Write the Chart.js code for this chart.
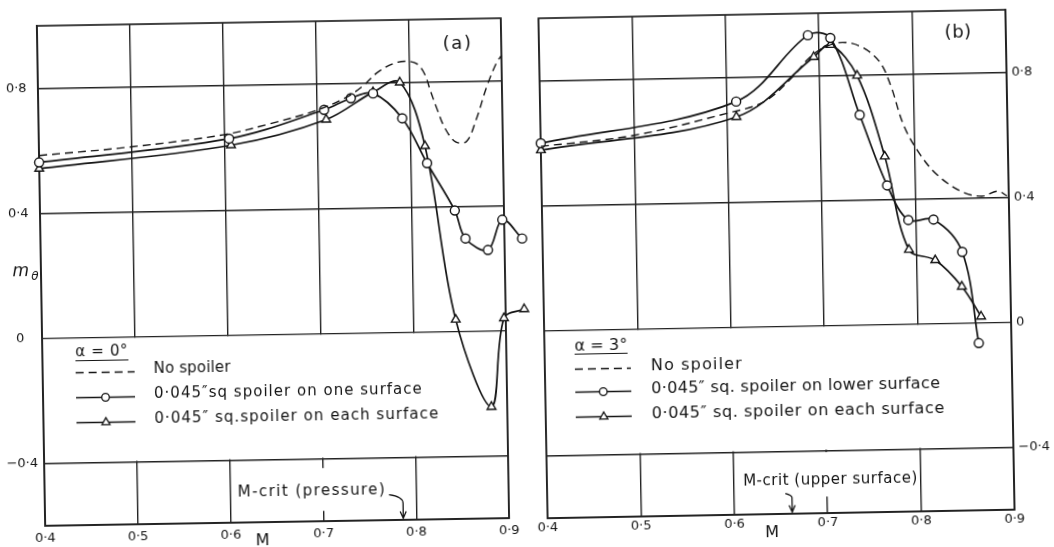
<!DOCTYPE html>
<html>
<head>
<meta charset="utf-8">
<title>Pitching moment with spoilers</title>
<script src="https://cdn.jsdelivr.net/npm/chart.js@4.4.1/dist/chart.umd.min.js"></script>
<style>
  html, body { margin: 0; padding: 0; background: #fff; }
  body { width: 1054px; height: 547px; overflow: hidden; position: relative; }
  canvas { position: absolute; left: 0; top: 0; }
  #panelA { transform-origin: 273px 272px; transform: rotate(-0.95deg); }
  #panelB { transform-origin: 776px 264px; transform: rotate(-1.05deg); }
</style>
</head>
<body>
<canvas id="panelA" width="1054" height="547"></canvas>
<canvas id="panelB" width="1054" height="547"></canvas>
<script>
// ---- shared axes: Mach number M against pitching moment m_theta ----
const machTicks = [0.4, 0.5, 0.6, 0.7, 0.8, 0.9];
const momentTicks = [-0.4, 0, 0.4, 0.8];
const machMin = 0.4, machMax = 0.9;
const momentMin = -0.6, momentMax = 1.0;

// ---- (a) alpha = 0 deg ----
const aNoSpoilerM = [0.4, 0.5, 0.6, 0.65, 0.7, 0.732, 0.75, 0.767, 0.785, 0.798, 0.809, 0.817, 0.823, 0.83, 0.838, 0.849, 0.861, 0.872, 0.884, 0.895, 0.9];
const aNoSpoilerV = [0.585, 0.608, 0.642, 0.675, 0.715, 0.755, 0.79, 0.835, 0.862, 0.867, 0.858, 0.825, 0.77, 0.71, 0.65, 0.607, 0.608, 0.68, 0.785, 0.86, 0.88];
const aOneSurfaceM = [0.4, 0.605, 0.708, 0.737, 0.761, 0.792, 0.818, 0.847, 0.858, 0.882, 0.898, 0.919];
const aOneSurfaceV = [0.563, 0.629, 0.716, 0.752, 0.766, 0.685, 0.54, 0.387, 0.297, 0.259, 0.355, 0.294];
const aEachSurfaceM = [0.4, 0.607, 0.71, 0.761, 0.79, 0.816, 0.846, 0.883, 0.898, 0.92];
const aEachSurfaceV = [0.543, 0.608, 0.685, 0.77, 0.8, 0.595, 0.038, -0.243, 0.04, 0.068];
const aLabels = ['No spoiler', '0\u00B7045\u2033sq spoiler on one surface', '0\u00B7045\u2033 sq.spoiler on each surface'];

// ---- (b) alpha = 3 deg ----
const bNoSpoilerM = [0.4, 0.5, 0.6, 0.64, 0.67, 0.69, 0.709, 0.728, 0.748, 0.765, 0.776, 0.789, 0.805, 0.824, 0.85, 0.871, 0.888, 0.898];
const bNoSpoilerV = [0.59, 0.62, 0.685, 0.72, 0.795, 0.86, 0.895, 0.905, 0.885, 0.838, 0.762, 0.635, 0.546, 0.475, 0.42, 0.405, 0.42, 0.405];
const bLowerSurfaceM = [0.4, 0.61, 0.688, 0.712, 0.742, 0.77, 0.792, 0.819, 0.849, 0.865];
const bLowerSurfaceV = [0.6, 0.722, 0.93, 0.92, 0.672, 0.445, 0.333, 0.333, 0.228, -0.065];
const bEachSurfaceM = [0.4, 0.61, 0.694, 0.712, 0.74, 0.768, 0.792, 0.82, 0.848, 0.868];
const bEachSurfaceV = [0.578, 0.673, 0.86, 0.898, 0.798, 0.538, 0.238, 0.203, 0.117, 0.02];
const bLabels = ['No spoiler', '0\u00B7045\u2033 sq. spoiler on lower surface', '0\u00B7045\u2033 sq. spoiler on each surface'];

const INK = '#141414';
const GRID = '#222222';
const FONT = '"DejaVu Sans", "Liberation Sans", sans-serif';

function pts(ms, vs) { return ms.map((m, i) => ({ x: m, y: vs[i] })); }

function tickText(v) {
  if (Math.abs(v) < 1e-9) return '0';
  return (v < 0 ? '\u2212' : '') + '0\u00B7' + Math.round(Math.abs(v) * 10);
}

// draw a string stretched (by letter spacing) to a given width
function fitText(ctx, str, x, y, w, font) {
  ctx.font = font;
  const hasLS = 'letterSpacing' in ctx;
  if (hasLS) ctx.letterSpacing = '0px';
  const natural = ctx.measureText(str).width;
  if (w && hasLS) {
    ctx.letterSpacing = ((w - natural) / str.length).toFixed(2) + 'px';
    ctx.fillText(str, x, y);
    ctx.letterSpacing = '0px';
  } else if (w) {
    ctx.save(); ctx.translate(x, y); ctx.scale(w / natural, 1); ctx.fillText(str, 0, 0); ctx.restore();
  } else {
    ctx.fillText(str, x, y);
  }
}

function marker(ctx, style, x, y, r) {
  ctx.beginPath();
  if (style === 'triangle') {
    ctx.moveTo(x, y - r);
    ctx.lineTo(x + 0.866 * r, y + r / 2);
    ctx.lineTo(x - 0.866 * r, y + r / 2);
    ctx.closePath();
  } else {
    ctx.arc(x, y, r, 0, Math.PI * 2);
  }
  ctx.fillStyle = '#fff';
  ctx.fill();
  ctx.stroke();
}

function makeDatasets(labels, noM, noV, s1M, s1V, s2M, s2V) {
  const common = { borderColor: INK, fill: false, tension: 0.35, clip: false, pointBackgroundColor: '#fff', pointBorderColor: INK, pointBorderWidth: 1.4 };
  return [
    Object.assign({}, common, { label: labels[0], data: pts(noM, noV), borderWidth: 1.4, borderDash: [8, 5], pointRadius: 0 }),
    Object.assign({}, common, { label: labels[1], data: pts(s1M, s1V), borderWidth: 1.7, pointStyle: 'circle', pointRadius: 4.5 }),
    Object.assign({}, common, { label: labels[2], data: pts(s2M, s2V), borderWidth: 1.7, pointStyle: 'triangle', pointRadius: 5 })
  ];
}

// frame, blank legend band, M-crit note, legend and panel labels
function panelPlugin(p) {
  return {
    id: 'panelDecor',
    beforeDatasetsDraw(chart) {
      const { ctx, chartArea: a, scales: { x, y } } = chart;
      const y0 = y.getPixelForValue(0), yN = y.getPixelForValue(-0.4);
      ctx.save();
      ctx.fillStyle = '#fff';
      ctx.fillRect(a.left + 1, y0 + 1, a.width - 2, yN - y0 - 2);
      // blank area behind the M-crit note
      const c = p.crit;
      const bx0 = x.getPixelForValue(c.box[0]), bx1 = x.getPixelForValue(c.box[1]);
      const by0 = y.getPixelForValue(c.box[2]), by1 = y.getPixelForValue(c.box[3]);
      ctx.fillRect(bx0, by0, bx1 - bx0, by1 - by0);
      // outer frame
      ctx.strokeStyle = GRID;
      ctx.lineWidth = 1.7;
      ctx.strokeRect(a.left, a.top, a.width, a.height);
      // note text
      ctx.fillStyle = INK;
      ctx.textBaseline = 'middle';
      ctx.textAlign = 'left';
      fitText(ctx, c.text, x.getPixelForValue(c.m0), y.getPixelForValue(c.v), x.getPixelForValue(c.m1) - x.getPixelForValue(c.m0), '15px ' + FONT);
      // arrow down to the M axis
      const ar = c.arrow.map(q => [x.getPixelForValue(q[0]), y.getPixelForValue(q[1])]);
      ctx.strokeStyle = INK;
      ctx.lineWidth = 1.3;
      ctx.beginPath();
      ctx.moveTo(ar[0][0], ar[0][1]);
      ctx.quadraticCurveTo(ar[1][0], ar[0][1] + 2, ar[1][0], ar[1][1]);
      ctx.lineTo(ar[2][0], ar[2][1]);
      ctx.moveTo(ar[2][0] - 3, ar[2][1] - 7);
      ctx.lineTo(ar[2][0], ar[2][1]);
      ctx.lineTo(ar[2][0] + 3, ar[2][1] - 7);
      ctx.stroke();
      ctx.restore();
    },
    afterDatasetsDraw(chart) {
      const { ctx, chartArea: a, scales: { x, y } } = chart;
      const y0 = y.getPixelForValue(0);
      const lg = p.legend;
      ctx.save();
      ctx.strokeStyle = INK;
      // markers of points lying past the frame (the library leaves them out)
      chart.data.datasets.forEach((ds, i) => {
        if (!(ds.pointRadius > 0)) return;
        const m = ds.pointRadius + ds.pointBorderWidth;
        chart.getDatasetMeta(i).data.forEach(pt => {
          if (pt.x > a.right + m || pt.x < a.left - m || pt.y < a.top - m || pt.y > a.bottom + m) {
            ctx.lineWidth = ds.pointBorderWidth;
            marker(ctx, ds.pointStyle, pt.x, pt.y, ds.pointRadius);
          }
        });
      });
      ctx.fillStyle = INK;
      ctx.textBaseline = 'middle';
      ctx.textAlign = 'left';
      // legend heading, underlined
      const hx = a.left + lg.sx0;
      fitText(ctx, lg.header, hx, y0 + lg.hy, lg.hw, lg.size + 'px ' + FONT);
      ctx.lineWidth = 1.2;
      ctx.beginPath();
      ctx.moveTo(hx, y0 + lg.hy + 8);
      ctx.lineTo(hx + lg.hw, y0 + lg.hy + 8);
      ctx.stroke();
      // one row per dataset
      chart.data.datasets.forEach((ds, i) => {
        const ry = y0 + lg.rows[i];
        ctx.lineWidth = ds.borderWidth;
        ctx.setLineDash(ds.borderDash || []);
        ctx.beginPath();
        ctx.moveTo(a.left + lg.sx0, ry);
        ctx.lineTo(a.left + lg.sx1, ry);
        ctx.stroke();
        ctx.setLineDash([]);
        if (ds.pointRadius > 0) {
          ctx.lineWidth = 1.3;
          marker(ctx, ds.pointStyle, a.left + (lg.sx0 + lg.sx1) / 2, ry, ds.pointStyle === 'triangle' ? 4.6 : 3.8);
        }
        ctx.fillStyle = INK;
        fitText(ctx, ds.label, a.left + lg.tx, ry - 2, lg.tw[i], lg.size + 'px ' + FONT);
      });
      // panel tag
      fitText(ctx, p.tag.text, x.getPixelForValue(p.tag.m) - p.tag.w / 2, y.getPixelForValue(p.tag.v), p.tag.w, '18px ' + FONT);
      // axis title M
      ctx.font = '16px ' + FONT;
      ctx.textAlign = 'center';
      ctx.fillText('M', x.getPixelForValue(p.mLabel), a.bottom + 19);
      // axis title m_theta
      if (p.yTitle) {
        const ty = y.getPixelForValue(p.yTitle);
        ctx.font = 'italic 17px ' + FONT;
        ctx.textAlign = 'right';
        ctx.fillText('m', a.left - 12, ty);
        ctx.font = 'italic 12px ' + FONT;
        ctx.textAlign = 'center';
        ctx.fillText('\u03B8', a.left - 6, ty + 6);
      }
      ctx.restore();
    }
  };
}

function makeChart(id, side, pad, datasets, decor, tickPad) {
  const tickFont = { family: FONT, size: 13 };
  return new Chart(document.getElementById(id), {
    type: 'line',
    data: { datasets },
    options: {
      responsive: false,
      animation: false,
      devicePixelRatio: 1,
      events: [],
      layout: { padding: pad },
      plugins: { legend: { display: false }, tooltip: { enabled: false } },
      scales: {
        x: {
          type: 'linear', position: 'bottom', min: machMin, max: machMax,
          afterBuildTicks: s => { s.ticks = machTicks.map(v => ({ value: v })); },
          afterFit: s => { s.height = 20; s.paddingLeft = 0; s.paddingRight = 0; },
          grid: { color: GRID, lineWidth: 1.4, drawTicks: false },
          border: { display: true, color: GRID, width: 1.7 },
          ticks: { callback: v => tickText(v), font: tickFont, color: INK, padding: tickPad, maxRotation: 0, autoSkip: false }
        },
        y: {
          type: 'linear', position: side, min: momentMin, max: momentMax,
          afterBuildTicks: s => { s.ticks = momentTicks.map(v => ({ value: v })); },
          afterFit: s => { s.width = side === 'left' ? 41 : 44; s.paddingTop = 0; s.paddingBottom = 0; },
          grid: { color: GRID, lineWidth: 1.4, drawTicks: false },
          border: { display: true, color: GRID, width: 1.7 },
          ticks: { callback: v => tickText(v), font: tickFont, color: INK, padding: side === 'left' ? 6 : 5, crossAlign: side === 'left' ? 'center' : 'near', autoSkip: false }
        }
      }
    },
    plugins: [panelPlugin(decor)]
  });
}

makeChart('panelA', 'left', { left: 0, right: 549, top: 22, bottom: 5 },
  makeDatasets(aLabels, aNoSpoilerM, aNoSpoilerV, aOneSurfaceM, aOneSurfaceV, aEachSurfaceM, aEachSurfaceV),
  {
    crit: { text: 'M-crit (pressure)', m0: 0.608, m1: 0.768, v: -0.503,
            box: [0.606, 0.772, -0.43, -0.567],
            arrow: [[0.771, -0.519], [0.786, -0.547], [0.786, -0.595]] },
    legend: { header: '\u03B1 = 0\u00B0', hy: 15, hw: 53, size: 15, sx0: 33, sx1: 92, tx: 111,
              rows: [35, 60, 85], tw: [77, 269, 285] },
    tag: { text: '(a)', m: 0.853, v: 0.92, w: 30 },
    mLabel: 0.634,
    yTitle: 0.215
  }, 5);

makeChart('panelB', 'right', { left: 543, right: 0, top: 14, bottom: 13 },
  makeDatasets(bLabels, bNoSpoilerM, bNoSpoilerV, bLowerSurfaceM, bLowerSurfaceV, bEachSurfaceM, bEachSurfaceV),
  {
    crit: { text: 'M-crit (upper surface)', m0: 0.61, m1: 0.797, v: -0.496,
            box: [0.606, 0.798, -0.405, -0.547],
            arrow: [[0.655, -0.535], [0.662, -0.548], [0.662, -0.595]] },
    legend: { header: '\u03B1 = 3\u00B0', hy: 16, hw: 53, size: 16, sx0: 30, sx1: 86, tx: 106,
              rows: [39, 62, 87], tw: [92, 289, 293] },
    tag: { text: '(b)', m: 0.849, v: 0.927, w: 27 },
    mLabel: 0.64,
    yTitle: null
  }, 2);
</script>
</body>
</html>
